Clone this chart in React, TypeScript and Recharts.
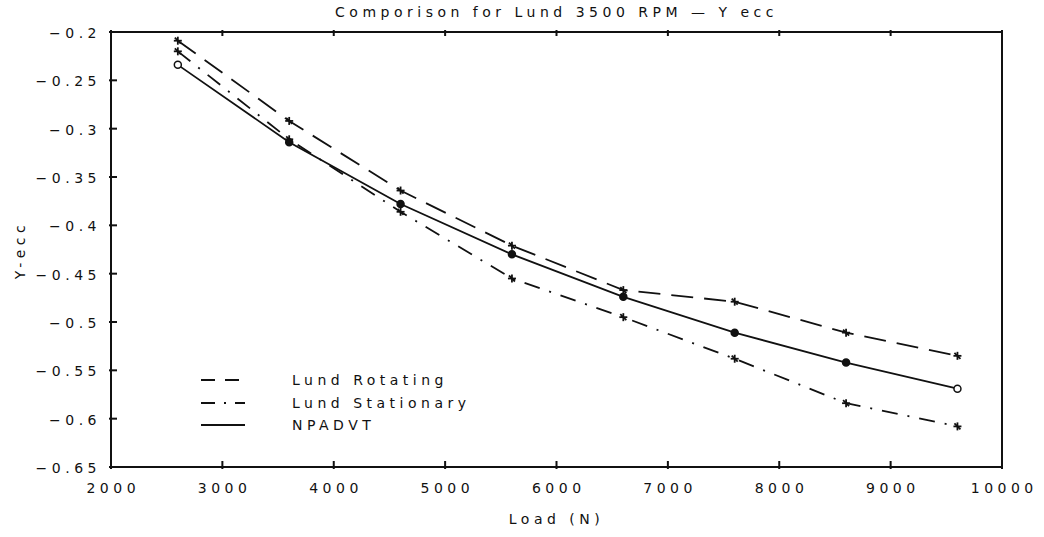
import React from "react"
import { Line, LineChart, XAxis, YAxis } from "recharts"

const loads = [2600, 3600, 4600, 5600, 6600, 7600, 8600, 9600]
const lundRotating = [-0.209, -0.292, -0.364, -0.421, -0.467, -0.479, -0.511, -0.535]
const lundStationary = [-0.22, -0.311, -0.386, -0.455, -0.495, -0.538, -0.584, -0.608]
const npadvt = [-0.234, -0.314, -0.378, -0.43, -0.474, -0.511, -0.542, -0.569]

const xTicks = [2000, 3000, 4000, 5000, 6000, 7000, 8000, 9000, 10000]
const yTicks = [-0.65, -0.6, -0.55, -0.5, -0.45, -0.4, -0.35, -0.3, -0.25, -0.2]

const data = loads.map((load, i) => ({
  load,
  rotating: lundRotating[i],
  stationary: lundStationary[i],
  npadvt: npadvt[i],
}))

const INK = "#111"
const FONT = "'DejaVu Sans', sans-serif"
const FS = 14
const LS = 4.5
const TICK = 8

const fmtY = (v: number) => String(v).replace("-", "\u2212")

// inward tick marks are drawn as thin rects inside the custom tick renderers
const BottomTick = (props: any) => {
  const { x, y, payload } = props
  return (
    <g>
      <rect x={x - 1} y={y - TICK} width={2} height={TICK} fill={INK} />
      <text x={x + LS / 2} y={y + 24} textAnchor="middle" fontSize={FS} letterSpacing={LS} fill={INK} fontFamily={FONT}>
        {payload.value}
      </text>
    </g>
  )
}

const TopTick = (props: any) => {
  const { x, y } = props
  return <rect x={x - 1} y={y} width={2} height={6} fill={INK} />
}

const LeftTick = (props: any) => {
  const { x, y, payload } = props
  return (
    <g>
      <rect x={x} y={y - 1} width={TICK} height={2} fill={INK} />
      <text x={x - 8} y={y + 6} textAnchor="end" fontSize={FS} letterSpacing={LS} fill={INK} fontFamily={FONT}>
        {fmtY(payload.value)}
      </text>
    </g>
  )
}

const RightTick = (props: any) => {
  const { x, y } = props
  return <rect x={x - TICK} y={y - 1} width={TICK} height={2} fill={INK} />
}

const StarDot = (props: any) => {
  const { cx, cy } = props
  if (cx == null || cy == null) return <g />
  return (
    <g stroke={INK} strokeWidth={1.8}>
      <line x1={cx - 4} y1={cy} x2={cx + 4} y2={cy} />
      <line x1={cx} y1={cy - 4} x2={cx} y2={cy + 4} />
      <line x1={cx - 3} y1={cy - 3} x2={cx + 3} y2={cy + 3} />
    </g>
  )
}

const CircleDot = (props: any) => {
  const { cx, cy, index } = props
  if (cx == null || cy == null) return <g />
  const open = index === 0 || index === loads.length - 1
  return <circle cx={cx} cy={cy} r={3.5} stroke={INK} strokeWidth={1.5} fill={open ? "#fff" : INK} />
}

const legendItems = [
  { label: "Lund Rotating", dash: "14 10" },
  { label: "Lund Stationary", dash: "14 9 2 9" },
  { label: "NPADVT", dash: undefined },
]

const textStyle: React.CSSProperties = {
  fontFamily: FONT,
  fontSize: FS,
  letterSpacing: LS,
  color: INK,
  whiteSpace: "nowrap",
  position: "absolute",
}

export default function App() {
  return (
    <div style={{ position: "absolute", left: 0, top: 0, width: 1044, height: 537, background: "#fff" }}>
      <LineChart width={1044} height={537} data={data} margin={{ top: 31, right: 41, bottom: 40, left: 51 }}>
        <XAxis
          xAxisId="bottom"
          dataKey="load"
          type="number"
          domain={[2000, 10000]}
          ticks={xTicks}
          height={30}
          tickSize={0}
          tickLine={false}
          stroke={INK}
          strokeWidth={2}
          tick={<BottomTick />}
        />
        <XAxis
          xAxisId="top"
          orientation="top"
          dataKey="load"
          type="number"
          domain={[2000, 10000]}
          ticks={xTicks}
          height={1}
          tickSize={0}
          tickLine={false}
          stroke={INK}
          strokeWidth={2}
          tick={<TopTick />}
        />
        <YAxis
          yAxisId="left"
          type="number"
          domain={[-0.65, -0.2]}
          ticks={yTicks}
          width={60}
          tickSize={0}
          tickLine={false}
          stroke={INK}
          strokeWidth={2}
          tick={<LeftTick />}
        />
        <YAxis
          yAxisId="right"
          orientation="right"
          type="number"
          domain={[-0.65, -0.2]}
          ticks={yTicks}
          width={1}
          tickSize={0}
          tickLine={false}
          stroke={INK}
          strokeWidth={2}
          tick={<RightTick />}
        />
        <Line
          xAxisId="bottom"
          yAxisId="left"
          dataKey="rotating"
          name="Lund Rotating"
          stroke={INK}
          strokeWidth={1.8}
          strokeDasharray="22 11"
          dot={<StarDot />}
          isAnimationActive={false}
        />
        <Line
          xAxisId="bottom"
          yAxisId="left"
          dataKey="stationary"
          name="Lund Stationary"
          stroke={INK}
          strokeWidth={1.8}
          strokeDasharray="16 10 2 10"
          dot={<StarDot />}
          isAnimationActive={false}
        />
        <Line
          xAxisId="bottom"
          yAxisId="left"
          dataKey="npadvt"
          name="NPADVT"
          stroke={INK}
          strokeWidth={1.8}
          dot={<CircleDot />}
          isAnimationActive={false}
        />
      </LineChart>

      <div style={{ ...textStyle, top: 4, left: 111, width: 891, textAlign: "center" }}>
        Comporison for Lund 3500 RPM {"\u2014"} Y ecc
      </div>
      <div style={{ ...textStyle, top: 511, left: 111, width: 891, textAlign: "center" }}>Load (N)</div>
      <div
        style={{
          ...textStyle,
          left: 20,
          top: 250,
          transform: "translate(-50%, -50%) rotate(-90deg)",
        }}
      >
        Y-ecc
      </div>
      {legendItems.map((it, i) => (
        <div key={it.label} style={{ position: "absolute", left: 201, top: 370 + i * 22.5, height: 20, display: "flex", alignItems: "center" }}>
          <svg width={91} height={10}>
            <line x1={0} y1={5} x2={44} y2={5} stroke={INK} strokeWidth={1.8} strokeDasharray={it.dash} />
          </svg>
          <span style={{ ...textStyle, position: "static" }}>{it.label}</span>
        </div>
      ))}
    </div>
  )
}
